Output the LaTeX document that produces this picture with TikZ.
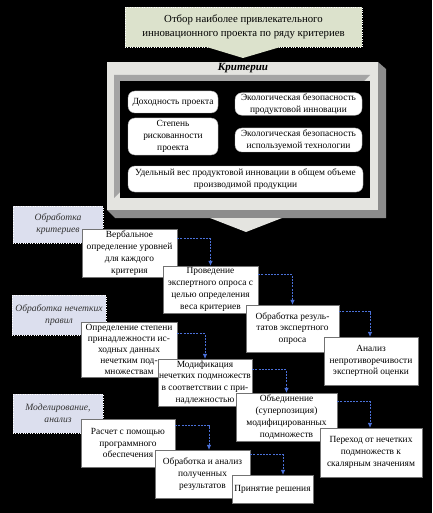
\documentclass[tikz,border=0pt]{standalone}
\usepackage{fontspec}
\setmainfont{Liberation Serif}
\usetikzlibrary{arrows.meta,positioning,calc}

\definecolor{goalfill}{HTML}{DCE2CC}
\definecolor{sidefill}{HTML}{DCDFEE}
\definecolor{framelight}{HTML}{E4E4E0}
\definecolor{frameshade}{HTML}{8C8C8C}
\definecolor{framebevel}{HTML}{A4A4A4}
\definecolor{linkblue}{HTML}{4A70D8}

\begin{document}
\begin{tikzpicture}[
    x=1pt, y=-1pt,
    font=\fontsize{9.4}{11.8}\selectfont,
    >={Latex[length=5pt,width=4.5pt]},
    proc/.style={draw=black!55, fill=white, align=center, inner sep=1pt, line width=0.5pt},
    crit/.style={draw=black!30, fill=white, rounded corners=7pt, align=center, inner sep=1pt},
    side/.style={draw=white, dotted, fill=sidefill, align=center, inner sep=1pt, text=black!80, font=\fontsize{9.6}{12}\selectfont\itshape},
    link/.style={->, draw=linkblue, line width=0.6pt, dash pattern=on 2pt off 1.2pt}
  ]

  % --- CANVAS ---
  \useasboundingbox (0,0) rectangle (432,513);
  \fill[black] (0,0) rectangle (432,513);

  % --- GOAL ---
  \node[fill=goalfill, draw=white, dotted, minimum width=237pt, minimum height=40pt, align=center, inner sep=1pt, font=\fontsize{10.8}{14}\selectfont] (goal) at (243.5,27) {Отбор наиболее привлекательного\\инновационного проекта по ряду критериев};
  \fill[goalfill] (205,46.5) -- (243,58) -- (282,46.5) -- cycle;

  % --- CRITERIA FRAME ---
  \fill[frameshade] (107,210) -- (378,210) -- (378,62) -- (386,69) -- (386,218) -- (115,218) -- cycle;
  \fill[framelight] (107,62) rectangle (378,210);
  \fill[framebevel] (114,75) -- (370,75) -- (364,81) -- (120,81) -- (120,192) -- (114,198) -- cycle;
  \fill[black] (120,81) rectangle (370,198);
  \node[font=\fontsize{11}{12}\selectfont\bfseries\itshape, inner sep=0pt] (crit_title) at (243,68.5) {Критерии};

  \node[crit, minimum width=90pt, minimum height=22pt] (crit_income) at (173,102) {Доходность проекта};
  \node[crit, minimum width=127pt, minimum height=22pt] (crit_eco_prod) at (298.5,104) {Экологическая безопасность\\продуктовой инновации};
  \node[crit, minimum width=90pt, minimum height=37pt] (crit_risk) at (173,136.5) {Степень\\рискованности\\проекта};
  \node[crit, minimum width=127pt, minimum height=24pt] (crit_eco_tech) at (298.5,140) {Экологическая безопасность\\используемой технологии};
  \node[crit, minimum width=235pt, minimum height=26pt] (crit_share) at (245.5,179) {Удельный вес продуктовой инновации в общем объеме\\производимой продукции};

  \fill[framelight] (210,218) -- (246,232) -- (282,218) -- cycle;

  % --- STAGE LABELS ---
  \node[side, minimum width=90pt, minimum height=37pt] (lbl_criteria) at (58,224.5) {Обработка\\критериев};
  \node[side, minimum width=94pt, minimum height=40pt] (lbl_fuzzy) at (59,315) {Обработка нечетких\\правил};
  \node[side, minimum width=90pt, minimum height=39pt] (lbl_model) at (58,413.5) {Моделирование,\\анализ};

  % --- CRITERIA PROCESSING ---
  \node[proc, minimum width=95pt, minimum height=48pt] (b_verbal) at (129.5,253) {Вербальное\\определение уровней\\для каждого\\критерия};
  \node[proc, minimum width=95pt, minimum height=47pt] (b_survey) at (210.5,289.5) {Проведение\\экспертного опроса с\\целью определения\\веса критериев};
  \node[proc, minimum width=93pt, minimum height=47pt] (b_results) at (292.5,328.5) {Обработка резуль-\\татов экспертного\\опроса};
  \node[proc, minimum width=94pt, minimum height=48pt] (b_consist) at (371,361) {Анализ\\непротиворечивости\\экспертной оценки};

  % --- FUZZY RULES ---
  \node[proc, minimum width=96pt, minimum height=55pt, font=\fontsize{9.4}{10.8}\selectfont] (b_member) at (129,349.5) {Определение степени\\принадлежности ис-\\ходных данных\\нечетким под-\\множествам};
  \node[proc, minimum width=94pt, minimum height=47pt] (b_modify) at (205,382.5) {Модификация\\нечетких подмножеств\\в соответствии с при-\\надлежностью};
  \node[proc, minimum width=101pt, minimum height=48pt] (b_union) at (286.5,417) {Объединение\\(суперпозиция)\\модифицированных\\подмножеств};
  \node[proc, minimum width=102pt, minimum height=49pt] (b_scalar) at (371,452.5) {Переход от нечетких\\подмножеств к\\скалярным значениям};

  % --- MODELLING ---
  \node[proc, minimum width=94pt, minimum height=48pt] (b_calc) at (128,443) {Расчет с помощью\\программного\\обеспечения};
  \node[proc, minimum width=95pt, minimum height=48pt] (b_analysis) at (202.5,474) {Обработка и анализ\\полученных\\результатов};
  \node[proc, minimum width=81pt, minimum height=28pt] (b_decision) at (272.5,489) {Принятие решения};

  % --- CONNECTIONS ---
  \draw[link] ([yshift=-10pt]b_verbal.north east) -| (b_survey.north);
  \draw[link] ([yshift=-9pt]b_survey.north east) -| (b_results.north);
  \draw[link] ([yshift=-7pt]b_results.north east) -| ([xshift=-1pt]b_consist.north);
  \draw[link] ([yshift=-12pt]b_member.north east) -| (b_modify.north);
  \draw[link] ([yshift=-11pt]b_modify.north east) -| (b_union.north);
  \draw[link] ([yshift=-9pt]b_union.north east) -| ([xshift=-1pt]b_scalar.north);
  \draw[link] ([yshift=-7pt]b_calc.north east) -| ([xshift=6.5pt]b_analysis.north);
  \draw[link] ([yshift=-5pt]b_analysis.north east) -| ([xshift=10.5pt]b_decision.north);

\end{tikzpicture}
\end{document}
